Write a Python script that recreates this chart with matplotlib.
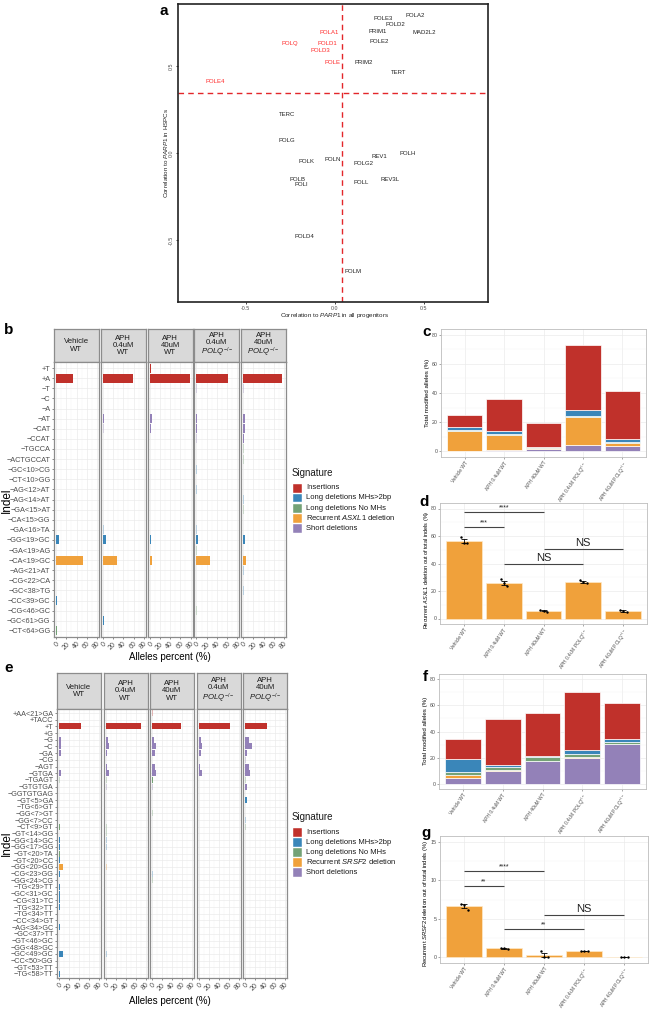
import matplotlib
matplotlib.use("Agg")
import matplotlib.pyplot as plt
from matplotlib.patches import Rectangle
import numpy as np

plt.rcParams['font.family'] = ['Liberation Sans', 'DejaVu Sans']
plt.rcParams['mathtext.fontset'] = 'custom'
plt.rcParams['mathtext.rm'] = 'Liberation Sans'
plt.rcParams['mathtext.it'] = 'Liberation Sans:italic'
plt.rcParams['mathtext.bf'] = 'Liberation Sans:bold'
plt.rcParams['axes.unicode_minus'] = False

# ---------------- data ----------------
# panel a
genes = ["POLE3", "POLA2", "POLD2", "PRIM1", "MAD2L2", "POLE2", "PRIM2", "TERT",
         "POLA1", "POLD1", "POLQ", "POLD3", "POLE", "POLE4", "TERC", "POLG", "POLK",
         "POLN", "REV1", "POLH", "POLG2", "POLB", "POLI", "POLL", "REV3L", "POLD4", "POLM"]
corr_all = [0.27, 0.45, 0.34, 0.24, 0.50, 0.25, 0.16, 0.36,
            -0.03, -0.04, -0.25, -0.08, -0.01, -0.67, -0.27, -0.27, -0.16,
            -0.01, 0.25, 0.41, 0.16, -0.21, -0.19, 0.15, 0.31, -0.17, 0.10]
corr_hspc = [0.77, 0.79, 0.74, 0.70, 0.69, 0.64, 0.52, 0.46,
             0.69, 0.63, 0.63, 0.59, 0.52, 0.41, 0.22, 0.07, -0.05,
             -0.04, -0.02, 0.00, -0.06, -0.15, -0.18, -0.17, -0.15, -0.48, -0.68]
thr_all = 0.04
thr_hspc = 0.345

conds = ["Vehicle WT", "APH 0.4uM WT", "APH 40uM WT", "APH 0.4uM POLQ-/-", "APH 40uM POLQ-/-"]
signatures = ["Insertions", "Long deletions MHs>2bp", "Long deletions No MHs",
              "Recurrent", "Short deletions"]

# panel b
indels_b = ["+T", "+A", "−T", "−C", "−A", "−AT", "−CAT", "−CCAT", "−TGCCA", "−ACTGCCAT",
            "−GC<10>CG", "−CT<10>GG", "−AG<12>AT", "−AG<14>AT", "−GA<15>AT", "−CA<15>GG",
            "−GA<16>TA", "−GG<19>GC", "−GA<19>AG", "−CA<19>GC", "−AG<21>AT", "−CG<22>CA",
            "−GC<38>TG", "−CC<39>GC", "−CG<46>GC", "−GC<61>GG", "−CT<64>GG"]
sig_b = {"+T": "Insertions", "+A": "Insertions", "−T": "Short deletions", "−C": "Short deletions",
         "−A": "Short deletions", "−AT": "Short deletions", "−CAT": "Short deletions",
         "−CCAT": "Short deletions", "−TGCCA": "Long deletions No MHs",
         "−ACTGCCAT": "Long deletions No MHs", "−GC<10>CG": "Long deletions MHs>2bp",
         "−CT<10>GG": "Long deletions No MHs", "−AG<12>AT": "Long deletions MHs>2bp",
         "−AG<14>AT": "Long deletions MHs>2bp", "−GA<15>AT": "Long deletions No MHs",
         "−CA<15>GG": "Long deletions No MHs", "−GA<16>TA": "Long deletions MHs>2bp",
         "−GG<19>GC": "Long deletions MHs>2bp", "−GA<19>AG": "Long deletions No MHs",
         "−CA<19>GC": "Recurrent", "−AG<21>AT": "Long deletions MHs>2bp",
         "−CG<22>CA": "Long deletions No MHs", "−GC<38>TG": "Long deletions MHs>2bp",
         "−CC<39>GC": "Long deletions MHs>2bp", "−CG<46>GC": "Long deletions No MHs",
         "−GC<61>GG": "Long deletions MHs>2bp", "−CT<64>GG": "Long deletions No MHs"}
b_strong = {
    "Vehicle WT": {"+A": 33, "−GG<19>GC": 6.5, "−CA<19>GC": 52, "−CC<39>GC": 2, "−CT<64>GG": 2},
    "APH 0.4uM WT": {"+A": 58, "−AT": 1.5, "−GG<19>GC": 6, "−CA<19>GC": 27, "−GC<61>GG": 2},
    "APH 40uM WT": {"+T": 3, "+A": 78, "−AT": 4, "−CAT": 2, "−GG<19>GC": 2, "−CA<19>GC": 5},
    "APH 0.4uM POLQ-/-": {"+A": 61, "−AT": 1.5, "−CAT": 1.5, "−GG<19>GC": 4, "−CA<19>GC": 27},
    "APH 40uM POLQ-/-": {"+A": 76, "−AT": 4, "−CAT": 2.5, "−CCAT": 1.5, "−GG<19>GC": 3,
                         "−CA<19>GC": 4.5},
}
b_faint = {
    "Vehicle WT": {},
    "APH 0.4uM WT": {"−CAT": 1.5, "−GA<16>TA": 2},
    "APH 40uM WT": {"−T": 1},
    "APH 0.4uM POLQ-/-": {"−T": 1.5, "−CCAT": 1, "−GC<10>CG": 2, "−AG<12>AT": 1.5,
                          "−GA<16>TA": 2, "−GA<19>AG": 2, "−CG<46>GC": 2},
    "APH 40uM POLQ-/-": {"−T": 1, "−TGCCA": 2, "−ACTGCCAT": 2, "−AG<14>AT": 2, "−GA<15>AT": 2,
                         "−AG<21>AT": 2, "−GC<38>TG": 2},
}

# panel c (stacked, total modified alleles %)
c_short = [0.3, 0.9, 1.6, 4.1, 3.7]
c_recurrent = [13.5, 10.1, 0.9, 19.3, 2.2]
c_long_nomh = [0.5, 0.5, 0.3, 0.7, 0.5]
c_long_mh = [2.2, 2.7, 0.4, 4.4, 1.9]
c_insertions = [8.3, 21.7, 16.3, 44.3, 33.3]

# panel d (replicates)
d_reps = [[59.5, 55.0, 55.0], [28.6, 25.7, 23.8], [6.2, 5.5, 5.0], [28.0, 26.3, 25.6], [6.2, 5.2, 4.9]]
d_tests = [(1, 3, "****", 77.4), (1, 2, "***", 66.9), (2, 4, "NS", 39.7), (3, 5, "NS", 50.2)]

# panel e
indels_e = ["+AA<21>GA", "+TACC", "+T", "+G", "−G", "−C", "−GA", "−CG", "−AGT", "−GTGA",
            "−TGAGT", "−GTGTGA", "−GGTGTGAG", "−GT<5>GA", "−TG<6>GT", "−GG<7>GT", "−GG<7>CC",
            "−CT<9>GT", "−GT<14>GG", "−GG<14>GC", "−GG<17>GG", "−GT<20>TA", "−GT<20>CC",
            "−GG<20>GG", "−CG<23>GG", "−GG<24>CG", "−TG<29>TT", "−GC<31>GC", "−CG<31>TC",
            "−TG<32>TT", "−TG<34>TT", "−CC<34>GT", "−AG<34>GC", "−GC<37>TT", "−GT<46>GC",
            "−GG<48>GC", "−GC<49>GC", "−CC<50>GG", "−GT<53>TT", "−TG<58>TT"]
sig_e = {}
for ind in indels_e:
    sig_e[ind] = "Long deletions MHs>2bp"
for ind in ["+AA<21>GA", "+TACC", "+T", "+G"]:
    sig_e[ind] = "Insertions"
for ind in ["−G", "−C", "−GA", "−CG", "−AGT", "−GTGA", "−GTGTGA"]:
    sig_e[ind] = "Short deletions"
for ind in ["−TGAGT", "−GGTGTGAG", "−GG<7>GT", "−CT<9>GT", "−GT<14>GG", "−GT<20>TA",
            "−GG<24>CG", "−GT<53>TT"]:
    sig_e[ind] = "Long deletions No MHs"
sig_e["−GG<20>GG"] = "Recurrent"
e_strong = {
    "Vehicle WT": {"+T": 43, "−G": 4, "−C": 4, "−GA": 3, "−GTGA": 4, "−CT<9>GT": 2,
                   "−GG<14>GC": 2, "−GG<17>GG": 2, "−GT<20>TA": 2, "−GT<20>CC": 2,
                   "−GG<20>GG": 7, "−CG<23>GG": 1.5, "−TG<29>TT": 1.5, "−GC<31>GC": 2,
                   "−CG<31>TC": 2, "−TG<32>TT": 1, "−AG<34>GC": 2, "−GC<49>GC": 7,
                   "−TG<58>TT": 2},
    "APH 0.4uM WT": {"+T": 70, "−G": 4, "−C": 6, "−GA": 3, "−AGT": 2, "−GTGA": 6},
    "APH 40uM WT": {"+T": 58, "−G": 4.7, "−C": 8, "−GA": 5, "−AGT": 6.7, "−GTGA": 8.7,
                    "−TGAGT": 2.5},
    "APH 0.4uM POLQ-/-": {"+T": 62, "−G": 4.7, "−C": 7.3, "−GA": 4, "−AGT": 3.3, "−GTGA": 7.3,
                          "−CT<9>GT": 1.5, "−GG<14>GC": 1.5},
    "APH 40uM POLQ-/-": {"+T": 44, "−G": 7.3, "−C": 13, "−GA": 4.7, "−AGT": 7.3, "−GTGA": 10.7,
                         "−GTGTGA": 4, "−GT<5>GA": 3.3},
}
e_faint = {
    "Vehicle WT": {"−TGAGT": 1.5},
    "APH 0.4uM WT": {"−TGAGT": 2, "−GTGTGA": 2, "−CT<9>GT": 2, "−GT<14>GG": 2, "−GG<14>GC": 2,
                     "−GG<17>GG": 2, "−GG<20>GG": 2, "−GC<49>GC": 2.5, "−GT<53>TT": 1},
    "APH 40uM WT": {"+AA<21>GA": 1, "−GTGTGA": 2, "−GG<7>GT": 1.5, "−CG<23>GG": 1,
                    "−GG<24>CG": 1},
    "APH 0.4uM POLQ-/-": {"−TGAGT": 1.5, "−GT<5>GA": 1, "−GG<17>GG": 1.5, "−GG<20>GG": 1.5},
    "APH 40uM POLQ-/-": {"−CG": 1, "−GG<7>CC": 1, "−CT<9>GT": 1, "−TGAGT": 1.5},
}

# panel f
f_short = [4.1, 9.9, 17.5, 19.8, 30.2]
f_recurrent = [2.5, 0.8, 0.2, 1.0, 0.1]
f_long_nomh = [2.5, 1.8, 2.9, 2.3, 1.8]
f_long_mh = [10.2, 1.7, 1.0, 2.5, 2.0]
f_insertions = [14.7, 35.5, 32.2, 44.7, 27.9]

# panel g
g_reps = [[6.9, 6.85, 6.1], [1.2, 1.15, 1.1], [0.77, 0.0, 0.0], [0.85, 0.8, 0.75], [0.0, 0.0, 0.0]]
g_tests = [(1, 3, "****", 11.18), (1, 2, "**", 9.3), (2, 4, "**", 3.64), (3, 5, "NS", 5.49)]

# ---------------- styling ----------------
sig_colors = {"Insertions": "#C0312B", "Long deletions MHs>2bp": "#3A86B9",
              "Long deletions No MHs": "#74A276", "Recurrent": "#F0A13B",
              "Short deletions": "#9381B8"}
GREY_TXT = '#4D4D4D'

W, H = 649, 1009
fig = plt.figure(figsize=(W / 100, H / 100), dpi=100)


def ax_px(l, t, r, b):
    return fig.add_axes([l / W, 1 - b / H, (r - l) / W, (b - t) / H])


def ftext(x, y, s, **kw):
    return fig.text(x / W, 1 - y / H, s, **kw)


def panel_label(x, y, s):
    ftext(x, y, s, fontsize=11, fontweight='bold', ha='center', va='center')


# ---------------- panel a ----------------
axa = ax_px(178, 4, 488, 302)
for g, xa, yh in zip(genes, corr_all, corr_hspc):
    col = '#FF2A2A' if (xa < thr_all and yh > thr_hspc) else '#222222'
    axa.text(xa, yh, g, fontsize=4.3, color=col, ha='center', va='center')
axa.axvline(thr_all, color='#E3262A', lw=1.0, ls=(0, (4, 3)))
axa.axhline(thr_hspc, color='#E3262A', lw=1.0, ls=(0, (4, 3)))
axa.set_xlim(-0.88, 0.86)
axa.set_ylim(-0.856, 0.856)
axa.set_xticks([-0.5, 0.0, 0.5])
axa.set_yticks([-0.5, 0.0, 0.5])
axa.tick_params(labelsize=3.8, colors='#222222', labelcolor=GREY_TXT, length=1.5, width=0.6, pad=1.5)
for lab in axa.get_yticklabels():
    lab.set_rotation(90)
    lab.set_va('center')
for s in axa.spines.values():
    s.set_linewidth(1.2)
    s.set_color('#222222')
ftext(335, 316, r"Correlation to $\mathit{PARP1}$ in all progenitors", fontsize=4.5,
      ha='center', va='center', color='#222222')
ftext(166, 153, r"Correlation to $\mathit{PARP1}$ in HSPCs", fontsize=4.5, rotation=90,
      ha='center', va='center', color='#222222')
panel_label(164, 11, "a")

# ---------------- facet panels (b, e) ----------------
strip_labels = ["Vehicle\nWT", "APH\n0.4uM\nWT", "APH\n40uM\nWT",
                "APH\n0.4uM\n$\\mathit{POLQ}^{-/-}$", "APH\n40uM\n$\\mathit{POLQ}^{-/-}$"]


def draw_facets(indels, sig_of, strong, faint, x0, width, gap, strip_top, strip_bot, panel_bot,
                ylab_size):
    n = len(indels)
    pos = {ind: i + 1 for i, ind in enumerate(indels)}
    for k, cond in enumerate(conds):
        l = x0 + k * (width + gap)
        sax = ax_px(l, strip_top, l + width, strip_bot)
        sax.set_facecolor('#D9D9D9')
        sax.set_xticks([])
        sax.set_yticks([])
        for s in sax.spines.values():
            s.set_color('#8C8C8C')
            s.set_linewidth(0.9)
        sax.text(0.5, 0.5, strip_labels[k], ha='center', va='center', fontsize=5.6,
                 color='#1A1A1A', transform=sax.transAxes, linespacing=1.05)
        ax = ax_px(l, strip_bot, l + width, panel_bot)
        for dct, alpha in ((strong[cond], 1.0), (faint[cond], 0.3)):
            inds = list(dct.keys())
            if not inds:
                continue
            ax.barh([pos[i] for i in inds], list(dct.values()), height=0.9,
                    color=[sig_colors[sig_of[i]] for i in inds], alpha=alpha, zorder=3)
        ax.set_xlim(-4, 84)
        ax.set_ylim(n + 0.6, 0.4)
        ax.set_xticks([0, 20, 40, 60, 80])
        ax.set_xticks([10, 30, 50, 70], minor=True)
        ax.set_yticks(range(1, n + 1))
        ax.grid(which='major', color='#EBEBEB', lw=0.5, zorder=0)
        ax.grid(which='minor', axis='x', color='#F2F2F2', lw=0.3, zorder=0)
        ax.set_axisbelow(True)
        ax.tick_params(which='minor', length=0)
        ax.tick_params(which='major', length=1.5, width=0.4, colors='#333333',
                       labelcolor=GREY_TXT, pad=1)
        ax.set_xticklabels(["0", "20", "40", "60", "80"], rotation=45, ha='right',
                           rotation_mode='anchor', fontsize=5)
        if k == 0:
            ax.set_yticklabels(indels, fontsize=ylab_size)
        else:
            ax.set_yticklabels([])
            ax.tick_params(axis='y', length=0)
        for s in ax.spines.values():
            s.set_color('#8C8C8C')
            s.set_linewidth(0.9)


def draw_legend(x, y_title, gene):
    ftext(x, y_title, "Signature", fontsize=7, ha='left', va='center', color='#1A1A1A')
    labels = ["Insertions", "Long deletions MHs>2bp", "Long deletions No MHs",
              "Recurrent $\\mathit{" + gene + "}$ deletion", "Short deletions"]
    for i, sig in enumerate(signatures):
        yc = y_title + 15 + 10 * i
        fig.patches.append(Rectangle(((x + 1) / W, 1 - (yc + 4.5) / H), 8.5 / W, 9 / H,
                                     transform=fig.transFigure, facecolor=sig_colors[sig],
                                     edgecolor='white', lw=0.3))
        ftext(x + 14, yc, labels[i], fontsize=5.5, ha='left', va='center', color='#1A1A1A')


draw_facets(indels_b, sig_b, b_strong, b_faint, 54, 45, 1.8, 329, 362, 637, 5.3)
ftext(6.5, 500, "Indel", fontsize=8.5, rotation=90, ha='center', va='center')
ftext(170, 657, "Alleles percent (%)", fontsize=7, ha='center', va='center')
draw_legend(292, 473, "ASXL1")
panel_label(9, 330, "b")

draw_facets(indels_e, sig_e, e_strong, e_faint, 57, 44, 2.5, 673, 709, 978, 5.2)
ftext(6.5, 843, "Indel", fontsize=8.5, rotation=90, ha='center', va='center')
ftext(170, 1001, "Alleles percent (%)", fontsize=7, ha='center', va='center')
draw_legend(292, 817, "SRSF2")
panel_label(9, 668, "e")

# ---------------- bar panels (c, d, f, g) ----------------
xlabels = ["Vehicle WT", "APH 0.4uM WT", "APH 40uM WT", "APH 0.4uM POLQ$^{-/-}$",
           "APH 40uM POLQ$^{-/-}$"]
xs = np.arange(1, 6)


def style_bar_ax(ax, ylim, yticks, minor):
    ax.set_xlim(0.4, 5.6)
    ax.set_ylim(*ylim)
    ax.set_yticks(yticks)
    ax.set_yticks(minor, minor=True)
    ax.set_xticks(xs)
    ax.set_xticklabels(xlabels, rotation=55, ha='right', rotation_mode='anchor', fontsize=3.5)
    ax.grid(which='major', color='#EBEBEB', lw=0.5)
    ax.grid(which='minor', axis='y', color='#F4F4F4', lw=0.3)
    ax.set_axisbelow(True)
    ax.tick_params(which='minor', length=0)
    ax.tick_params(which='major', labelsize=3.8, colors='#666666', labelcolor=GREY_TXT,
                   length=1.5, width=0.4, pad=1)
    for lab in ax.get_xticklabels():
        lab.set_fontsize(3.5)
    for s in ax.spines.values():
        s.set_color('#BDBDBD')
        s.set_linewidth(0.6)


def stacked(ax, layers):
    bottom = np.zeros(5)
    for vals, sig in layers:
        ax.bar(xs, vals, bottom=bottom, width=0.9, color=sig_colors[sig],
               edgecolor='white', linewidth=0.5, zorder=3)
        bottom = bottom + np.array(vals)


axc = ax_px(441, 329, 646, 457)
stacked(axc, [(c_short, "Short deletions"), (c_recurrent, "Recurrent"),
              (c_long_nomh, "Long deletions No MHs"), (c_long_mh, "Long deletions MHs>2bp"),
              (c_insertions, "Insertions")])
style_bar_ax(axc, (-4, 84), [0, 20, 40, 60, 80], [10, 30, 50, 70])
ftext(428, 393, "Total modified alleles (%)", fontsize=4.4, rotation=90, ha='center', va='center')
panel_label(427, 332, "c")

axf = ax_px(439, 674, 646, 789)
stacked(axf, [(f_short, "Short deletions"), (f_recurrent, "Recurrent"),
              (f_long_nomh, "Long deletions No MHs"), (f_long_mh, "Long deletions MHs>2bp"),
              (f_insertions, "Insertions")])
style_bar_ax(axf, (-4, 84), [0, 20, 40, 60, 80], [10, 30, 50, 70])
ftext(426, 731, "Total modified alleles (%)", fontsize=4.4, rotation=90, ha='center', va='center')
panel_label(425, 677, "f")

jitter = [-0.08, 0.0, 0.09]


def rep_bars(ax, reps, tests, star_off, ns_off):
    arr = np.array(reps)
    means = arr.mean(axis=1)
    se = arr.std(axis=1, ddof=1) / np.sqrt(arr.shape[1])
    ax.bar(xs, means, width=0.9, color=sig_colors["Recurrent"], edgecolor='#FFE9C8',
           linewidth=0.5, zorder=3)
    ax.errorbar(xs, means, yerr=se, fmt='none', ecolor='black', elinewidth=0.6,
                capsize=2.5, capthick=0.6, zorder=4)
    for i in range(5):
        ax.scatter(xs[i] + np.array(jitter), arr[i], s=3, color='black', zorder=5, linewidths=0)
    for a, b, lab, y in tests:
        ax.plot([a, b], [y, y], color='#444444', lw=0.8, zorder=6, solid_capstyle='butt')
        if lab == "NS":
            ax.text((a + b) / 2, y + ns_off, lab, ha='center', va='bottom', fontsize=8,
                    color='#222222')
        else:
            ax.text((a + b) / 2, y + star_off, lab, ha='center', va='bottom', fontsize=5,
                    color='#222222')


axd = ax_px(440, 503, 647, 624)
rep_bars(axd, d_reps, d_tests, 0.3, 0.8)
style_bar_ax(axd, (-4, 84), [0, 20, 40, 60, 80], [10, 30, 50, 70])
ftext(426.5, 570, r"Recurrent $\mathit{ASXL1}$ deletion out of total indels (%)", fontsize=4.0,
      rotation=90, ha='center', va='center')
panel_label(424, 502, "d")

axg = ax_px(440, 836, 648, 963)
rep_bars(axg, g_reps, g_tests, 0.05, 0.15)
style_bar_ax(axg, (-0.75, 15.75), [0, 5, 10, 15], [2.5, 7.5, 12.5])
ftext(425, 903, r"Recurrent $\mathit{SRSF2}$ deletion out of total indels (%)", fontsize=4.2,
      rotation=90, ha='center', va='center')
panel_label(426, 833, "g")

fig.savefig("out.png", dpi=100)
